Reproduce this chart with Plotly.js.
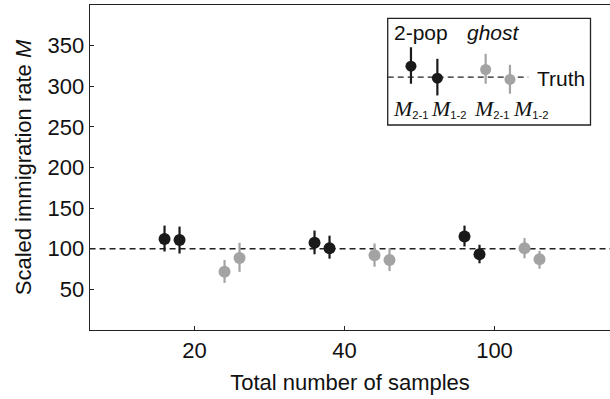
<!DOCTYPE html>
<html>
<head>
<meta charset="utf-8">
<script src="https://cdn.plot.ly/plotly-3.0.1.min.js"></script>
<style>html,body{margin:0;padding:0;background:#fff;}#chart{width:610px;height:399px;}</style>
</head>
<body>
<div id="chart"></div>
<script>
// Categories (sample sizes) and tick labels
const categories = ["20", "40", "100"];
const categoryPos = [1, 2, 3];
// Series: estimates of M for each model / direction
const twoPopM21 = [111.9, 107.3, 115.2];
const twoPopM21Lo = [96.6, 93.2, 102.8];
const twoPopM21Hi = [128.5, 122.4, 128.5];
const twoPopM12 = [110.7, 100.7, 93.2];
const twoPopM12Lo = [94.1, 87.8, 82.1];
const twoPopM12Hi = [127.3, 116.1, 104.9];
const ghostM21 = [71.6, 92.0, 100.7];
const ghostM21Lo = [58.0, 77.9, 88.3];
const ghostM21Hi = [86.2, 106.5, 113.1];
const ghostM12 = [88.6, 86.2, 87.0];
const ghostM12Lo = [71.6, 72.5, 75.4];
const ghostM12Hi = [107.3, 100.7, 97.4];
const truth = 100;
const yTicks = [50, 100, 150, 200, 250, 300, 350];
// Legend illustration samples
const legendSampleY = [324.7, 310.0, 320.6, 308.4];
const legendSampleLo = [303.1, 288.7, 303.1, 290.8];
const legendSampleHi = [348.0, 333.8, 339.9, 326.4];
const legendTruth = 311.2;

const offsets = [-0.2, -0.1, 0.2, 0.3];
const black = '#1a1a1a', gray = '#a3a3a3';

function series(vals, lo, hi, off, color) {
  return {
    type: 'scatter', mode: 'markers',
    x: categoryPos.map(p => p + off), y: vals,
    marker: {color: color, size: 12},
    error_y: {type: 'data', symmetric: false,
      array: vals.map((v, i) => hi[i] - v),
      arrayminus: vals.map((v, i) => v - lo[i]),
      color: color, thickness: 2.2, width: 0},
    showlegend: false, hoverinfo: 'skip'
  };
}

const legX = [2.443, 2.619, 2.941, 3.103];
const legColors = [black, black, gray, gray];

const traces = [
  {type: 'scatter', mode: 'lines', x: [0.3, 3.8], y: [truth, truth],
   line: {color: '#222', width: 1.3, dash: '6px,4px'}, showlegend: false, hoverinfo: 'skip'},
  series(twoPopM21, twoPopM21Lo, twoPopM21Hi, offsets[0], black),
  series(twoPopM12, twoPopM12Lo, twoPopM12Hi, offsets[1], black),
  series(ghostM21, ghostM21Lo, ghostM21Hi, offsets[2], gray),
  series(ghostM12, ghostM12Lo, ghostM12Hi, offsets[3], gray),
  {type: 'scatter', mode: 'lines', x: [2.288, 3.225], y: [legendTruth, legendTruth],
   line: {color: '#222', width: 1.3, dash: '6px,4px'}, showlegend: false, hoverinfo: 'skip'}
];
legendSampleY.forEach((v, i) => {
  traces.push({
    type: 'scatter', mode: 'markers', x: [legX[i]], y: [v],
    marker: {color: legColors[i], size: 11},
    error_y: {type: 'data', symmetric: false, array: [legendSampleHi[i] - v],
      arrayminus: [v - legendSampleLo[i]], color: legColors[i], thickness: 2.2, width: 0},
    showlegend: false, hoverinfo: 'skip'
  });
});

const fontFam = 'Liberation Sans, Arial, sans-serif';
const Mlab = s => "<span style=\"font-family:'Liberation Serif',serif;font-size:22px\"><i>M</i></span><sub>" + s + "</sub>";
const px = v => (v - 90) / 520;
const py = v => (330 - v) / 325;
function ann(x, y, text, size) {
  return {xref: 'paper', yref: 'paper', x: px(x), y: py(y), text: text, showarrow: false,
    xanchor: 'center', yanchor: 'middle', font: {size: size, color: '#111'}};
}
const annotations = [
  ann(421, 33, '2-pop', 21),
  ann(493.5, 33, '<i>ghost</i>', 21),
  ann(560.5, 78, 'Truth', 21),
  ann(410.5, 109, Mlab('2-1'), 16),
  ann(448.5, 109, Mlab('1-2'), 16),
  ann(492, 109, Mlab('2-1'), 16),
  ann(530.5, 109, Mlab('1-2'), 16)
];

const layout = {
  width: 610, height: 399,
  margin: {l: 90, r: 0, t: 5, b: 69},
  paper_bgcolor: '#fff', plot_bgcolor: '#fff',
  font: {family: fontFam, size: 22, color: '#111'},
  showlegend: false,
  xaxis: {
    range: [0.303, 3.77], tickvals: categoryPos, ticktext: categories,
    showgrid: false, zeroline: false, showline: true, linecolor: '#222', linewidth: 1.3,
    mirror: true, ticks: 'inside', ticklen: 4, tickcolor: '#222',
    tickfont: {size: 22},
    title: {text: 'Total number of samples', standoff: 13, font: {size: 22}}
  },
  yaxis: {
    range: [0, 400], tickvals: yTicks,
    showgrid: false, zeroline: false, showline: true, linecolor: '#222', linewidth: 1.3,
    mirror: false, ticks: 'inside', ticklen: 4, tickcolor: '#222',
    tickfont: {size: 22},
    title: {text: 'Scaled immigration rate <i>M</i>', standoff: 10, font: {size: 22}}
  },
  shapes: [
    {type: 'rect', xref: 'paper', yref: 'paper', x0: px(387.7), x1: px(590.5),
     y0: py(125), y1: py(18.3), line: {color: '#222', width: 1.3}, fillcolor: 'rgba(0,0,0,0)'}
  ],
  annotations: annotations
};

Plotly.newPlot('chart', traces, layout, {displayModeBar: false, staticPlot: true});
</script>
</body>
</html>
